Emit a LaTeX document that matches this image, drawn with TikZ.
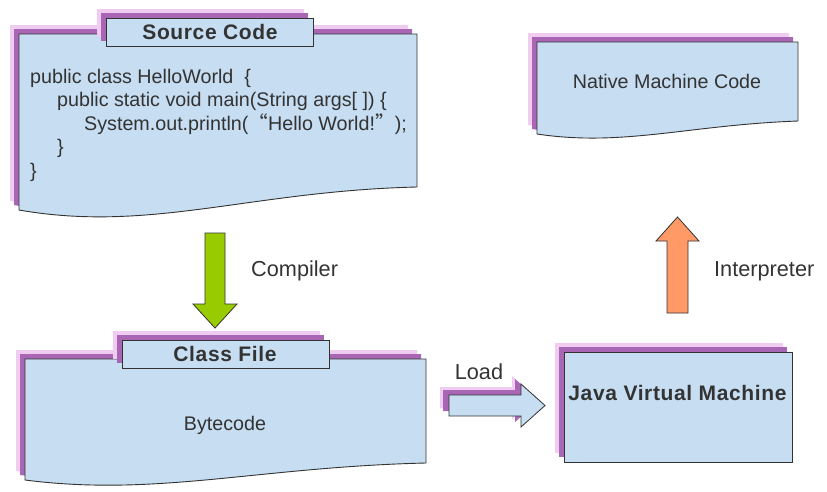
\documentclass[tikz,border=0pt]{standalone}
\usepackage{fontspec}
\setmainfont{Liberation Sans}
\newfontfamily\cjkfont{Noto Sans CJK SC}
\definecolor{boxfill}{HTML}{C6DDF2}
\definecolor{shdark}{HTML}{A866B4}
\definecolor{shlight}{HTML}{F0CCF0}
\definecolor{edgecol}{HTML}{333333}
\definecolor{txtcol}{HTML}{333333}
\definecolor{arrgreen}{HTML}{99CC00}
\definecolor{arrorange}{HTML}{FF9966}
\newcommand\docshape[6]{%
  \path[#1] (#2,#3) -- (#4,#3) -- (#4,#5)
    .. controls ({#2+0.58*(#4-#2)},{#5+4}) and ({#2+0.33*(#4-#2)},{#6+(#6-#5)}) .. (#2,#6) -- cycle;}
\tikzset{
  mainbox/.style={fill=boxfill, draw=edgecol, line width=0.9pt},
  shl/.style={fill=shlight, shift={(-9,-9)}},
  shd/.style={fill=shdark, shift={(-5,-5)}},
  bodytext/.style={font=\fontsize{19.7}{23}\selectfont, text=txtcol, inner sep=0pt},
  labeltext/.style={font=\fontsize{21.7}{25}\selectfont, text=txtcol, inner sep=0pt},
  titletext/.style={font=\fontsize{21}{25}\selectfont\bfseries\addfontfeatures{LetterSpace=3}, text=txtcol, inner sep=0pt},
}
\begin{document}
\begin{tikzpicture}[x=1pt,y=-1pt]
\useasboundingbox (0,0) rectangle (827,491);

% ---------- Source Code document ----------
\docshape{shl}{19}{34}{417}{187}{210}
\docshape{shd}{19}{34}{417}{187}{210}
\docshape{mainbox}{19}{34}{417}{187}{210}
\fill[shlight] (97,9) rectangle (304,37);
\fill[shdark] (101,13) rectangle (308,41);
\draw[mainbox] (106,18) rectangle (313,46);
\node[titletext, anchor=base] (srctitle) at (210,39.5) {Source Code};
\node[bodytext, anchor=base west] (l1) at (30,83) {public class HelloWorld\ \ \{};
\node[bodytext, anchor=base west] (l2) at (57,106.5) {public static void main(String args[ ]) \{};
\node[bodytext, anchor=base west] (l3) at (84,130) {System.out.println({\cjkfont “}Hello World!{\cjkfont ”});};
\node[bodytext, anchor=base west] (l4) at (57,153.5) {\}};
\node[bodytext, anchor=base west] (l5) at (30,177) {\}};

% ---------- Compiler arrow ----------
\draw[fill=arrgreen, draw=edgecol, line width=0.8pt]
  (205,233) -- (225,233) -- (225,304) -- (237,304) -- (215,328) -- (193,304) -- (205,304) -- cycle;
\node[labeltext, anchor=base west] (compiler) at (251,276) {Compiler};

% ---------- Class File document ----------
\docshape{shl}{25}{359}{426}{463}{480}
\docshape{shd}{25}{359}{426}{463}{480}
\docshape{mainbox}{25}{359}{426}{463}{480}
\fill[shlight] (113,331) rectangle (320,359);
\fill[shdark] (117,335) rectangle (324,363);
\draw[mainbox] (122,340) rectangle (329,368);
\node[titletext, anchor=base] (cftitle) at (225,361) {Class File};
\node[bodytext, anchor=base] (bytecode) at (225,430) {Bytecode};

% ---------- Load arrow ----------
\begin{scope}[shift={(-9,-8)}]
\fill[shlight] (449,395) -- (521,395) -- (521,384) -- (545,405.5) -- (521,427) -- (521,416) -- (449,416) -- cycle;
\end{scope}
\begin{scope}[shift={(-6,-5)}]
\fill[shdark] (449,395) -- (521,395) -- (521,384) -- (545,405.5) -- (521,427) -- (521,416) -- (449,416) -- cycle;
\end{scope}
\draw[mainbox, line width=0.8pt] (449,395) -- (521,395) -- (521,384) -- (545,405.5) -- (521,427) -- (521,416) -- (449,416) -- cycle;
\node[labeltext, anchor=base] (load) at (479,379) {Load};

% ---------- JVM box ----------
\fill[shlight] (555,343) rectangle (783,453);
\fill[shdark] (559,347) rectangle (787,457);
\draw[mainbox] (564,352) rectangle (792,462);
\node[titletext, anchor=base] (jvm) at (677.5,400.5) {Java Virtual Machine};

% ---------- Interpreter arrow ----------
\draw[fill=arrorange, draw=edgecol, line width=0.8pt]
  (667,313) -- (688,313) -- (688,241) -- (699,241) -- (677.5,217) -- (656,241) -- (667,241) -- cycle;
\node[labeltext, anchor=base west] (interp) at (714,276) {Interpreter};

% ---------- Native Machine Code document ----------
\docshape{shl}{537}{42}{798}{121}{134}
\docshape{shd}{537}{42}{798}{121}{134}
\docshape{mainbox}{537}{42}{798}{121}{134}
\node[bodytext, anchor=base] (native) at (667,88.5) {Native Machine Code};
\end{tikzpicture}
\end{document}
